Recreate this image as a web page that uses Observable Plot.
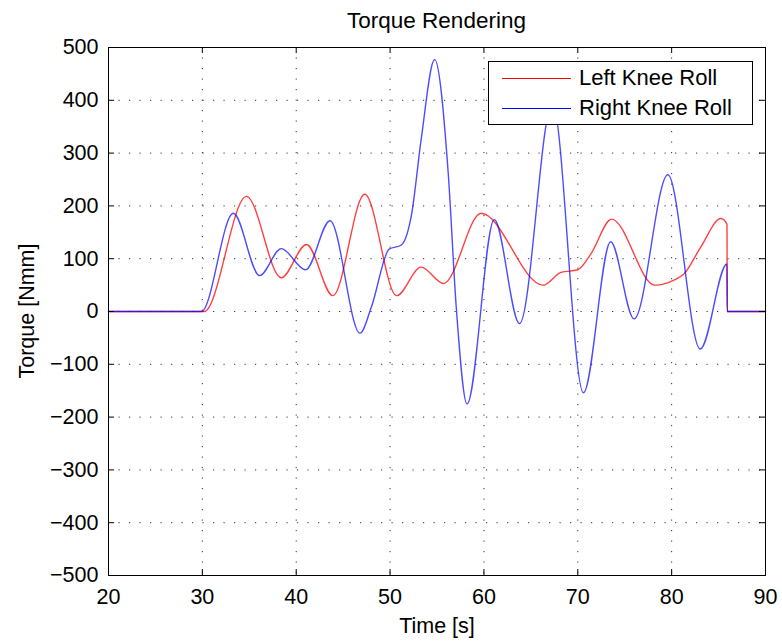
<!DOCTYPE html>
<html>
<head>
<meta charset="utf-8">
<script src="https://cdn.jsdelivr.net/npm/d3@7"></script>
<script src="https://cdn.jsdelivr.net/npm/@observablehq/plot@0.6"></script>
<style>
  html, body { margin: 0; padding: 0; background: #fff; }
  body { width: 782px; height: 641px; position: relative; overflow: hidden;
         font-family: "Liberation Sans", Arial, Helvetica, sans-serif; }
  #title { position: absolute; left: 108px; top: 0; width: 657px; height: 40px; line-height: 42px;
           text-align: center; font-size: 22.5px; color: #000; }
  #chart { position: absolute; left: 0; top: 40px; }
  #ylabel { position: absolute; left: 28px; top: 311px; width: 0; height: 0; }
  #ylabel span { position: absolute; left: 0; top: 0; white-space: nowrap; font-size: 21.5px; color: #000;
                 transform: translate(-50%, -50%) rotate(-90deg); line-height: 1; }
  #legend { position: absolute; left: 488px; top: 61px; width: 263px; height: 62px;
            border: 1px solid #000; background: #fff; font-size: 22px; color: #000; }
  .row { position: absolute; left: 0; height: 30px; width: 100%; }
  .sw { position: absolute; left: 13px; width: 69px; height: 0; border-top: 1.3px solid; }
  .lab { position: absolute; left: 90px; white-space: nowrap; line-height: 30px; top: 0; }
</style>
</head>
<body>
<div id="title">Torque Rendering</div>
<div id="chart"></div>
<div id="ylabel"><span>Torque [Nmm]</span></div>
<div id="legend">
  <div class="row" style="top:1px"><div class="sw" style="top:15px;border-color:#ff0000"></div><div class="lab">Left Knee Roll</div></div>
  <div class="row" style="top:31px"><div class="sw" style="top:15px;border-color:#0000ff"></div><div class="lab">Right Knee Roll</div></div>
</div>
<script>
const xTicks = [20, 30, 40, 50, 60, 70, 80, 90];
const yTicks = [-500, -400, -300, -200, -100, 0, 100, 200, 300, 400, 500];

const leftTime   = [20, 30.2, 34.7, 38.4, 41.1, 43.9, 47.3, 50.7, 53.3, 55.7, 59.7, 66.3, 68.2, 70.0, 71.4, 73.6, 78.2, 80.3, 81.3, 83.1, 85.25, 85.9, 85.92, 90];
const leftTorque = [0,  0,    218,  64,   127,  30,   222,  30,   84,   53,   186,  50,   74,   79,   109,  175,  50,   60,   71,   122,  176,   165,  0,     0];

const rightTime   = [20, 29.9, 33.3, 36.1, 38.4, 41.0, 43.6, 46.8, 48.0, 49.9, 51.2, 52.3, 53.3, 54.75, 56.2, 57.05, 58.2, 61.1, 63.8, 67.3, 70.6, 73.5, 76.0, 79.6, 83.05, 85.9, 85.92, 90];
const rightTorque = [0,  0,    186,  68,   119,  79,   172,  -41,  8,    118,  126,  185,  324,  477,   261,  8,     -175, 174,  -23,  395,  -154, 132,  -14,  259,  -71,   90,   0,     0];

const left = leftTime.map((t, i) => ({t, v: leftTorque[i]}));
const right = rightTime.map((t, i) => ({t, v: rightTorque[i]}));

const innerX = xTicks.slice(1, -1);
const innerY = yTicks.slice(1, -1);
const W = 782, H = 601, mT = 7, mB = 66, mL = 108, mR = 17;
const fw = W - mL - mR, fh = H - mT - mB;
const tl = 6;

const chart = Plot.plot({
  width: W, height: H,
  marginTop: mT, marginBottom: mB, marginLeft: mL, marginRight: mR,
  style: {fontFamily: "'Liberation Sans', Arial, Helvetica, sans-serif", fontSize: "21.5px", color: "#000", background: "#fff", overflow: "visible"},
  x: {domain: [20, 90], ticks: xTicks, tickSize: 0, tickPadding: 13, label: null},
  y: {domain: [-500, 500], ticks: yTicks, tickSize: 0, tickPadding: 10, label: null},
  marks: [
    Plot.ruleX(innerX, {x: d => d, stroke: "#333", strokeWidth: 1, strokeDasharray: "1.2,9.3"}),
    Plot.ruleY(innerY, {y: d => d, stroke: "#333", strokeWidth: 1, strokeDasharray: "1.2,9.3"}),
    Plot.line(left, {x: "t", y: "v", stroke: "#ff0000", strokeWidth: 1.4, strokeOpacity: 0.75, curve: "monotone-x"}),
    Plot.line(right, {x: "t", y: "v", stroke: "#0000ff", strokeWidth: 1.4, strokeOpacity: 0.7, curve: "monotone-x"}),
    Plot.tickX(innerX, {x: d => d, stroke: "#000", insetTop: fh - tl}),
    Plot.tickX(innerX, {x: d => d, stroke: "#000", insetBottom: fh - tl}),
    Plot.tickY(innerY, {y: d => d, stroke: "#000", insetRight: fw - tl}),
    Plot.tickY(innerY, {y: d => d, stroke: "#000", insetLeft: fw - tl}),
    Plot.frame({stroke: "#000", strokeWidth: 1}),
    Plot.text(["Time [s]"], {frameAnchor: "bottom", dy: 51, lineAnchor: "middle", fontSize: 21.5})
  ]
});
document.getElementById("chart").appendChild(chart);
</script>
</body>
</html>
